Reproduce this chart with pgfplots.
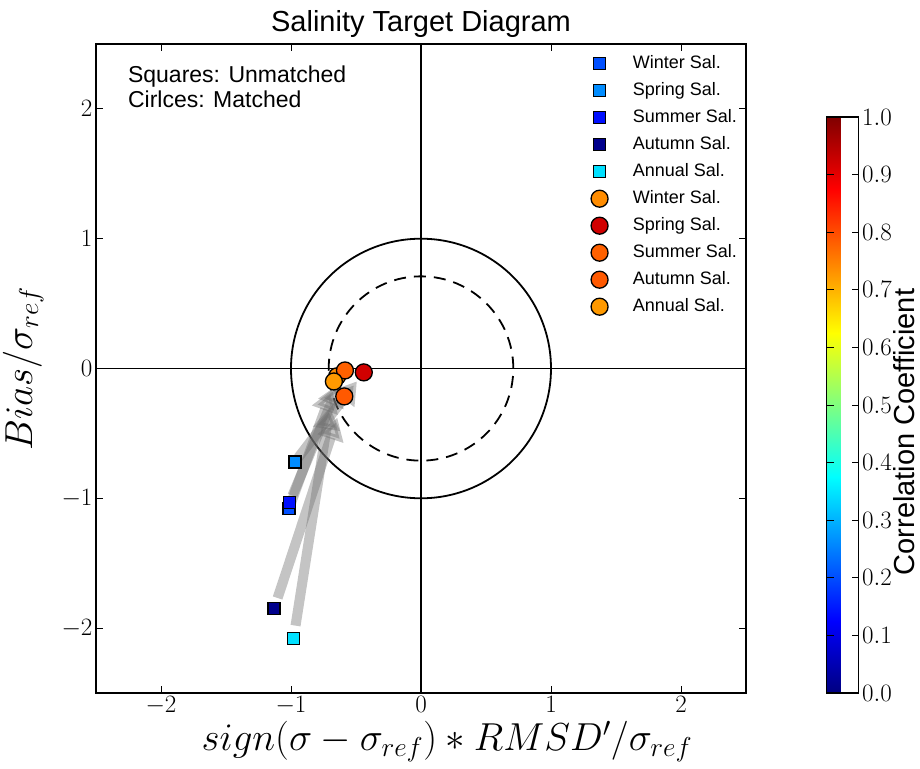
\RequirePackage{fix-cm}
\documentclass[border=0pt]{standalone}
\usepackage{fontspec}
\setmainfont{Liberation Sans}
\usepackage{pgfplots}
\pgfplotsset{compat=1.18}
\usetikzlibrary{arrows.meta}

% marker colours
\definecolor{sqWin}{rgb}{0,0.31,1}
\definecolor{sqSpr}{rgb}{0,0.55,1}
\definecolor{sqSum}{rgb}{0,0.06,1}
\definecolor{sqAut}{rgb}{0,0,0.55}
\definecolor{sqAnn}{rgb}{0,0.88,1}
\definecolor{ciWin}{rgb}{1,0.55,0}
\definecolor{ciSpr}{rgb}{0.82,0,0}
\definecolor{ciSum}{rgb}{1,0.38,0}
\definecolor{ciAut}{rgb}{1,0.35,0}
\definecolor{ciAnn}{rgb}{1,0.6,0}

\pgfplotsset{
  sq/.style={only marks, mark=square*, mark size=6pt, mark options={draw=black, line width=1.3pt, fill=#1}},
  ci/.style={only marks, mark=*, mark size=8.5pt, mark options={draw=black, line width=1.3pt, fill=#1}},
  shift/.style={forget plot, line width=10pt, color=gray!85!black, opacity=0.4, -{Triangle[width=26pt,length=22pt]}},
}

\begin{document}
\begin{tikzpicture}
\begin{axis}[
  at={(0,0)}, anchor=south west,
  width=650pt, height=649pt, scale only axis,
  xmin=-2.5, xmax=2.5, ymin=-2.5, ymax=2.5,
  xtick={-2,-1,0,1,2}, ytick={-2,-1,0,1,2},
  tick align=inside, major tick length=7pt,
  tick style={black, line width=0.8pt},
  axis line style={line width=1.8pt},
  ticklabel style={font=\fontsize{25}{29}\selectfont},
  title={Salinity Target Diagram},
  title style={font=\fontsize{29}{34}\selectfont, yshift=-3pt},
  xlabel={$sign(\sigma-\sigma_{ref}) * RMSD'/\sigma_{ref}$},
  ylabel={$Bias/\sigma_{ref}$},
  label style={font=\fontsize{39}{45}\selectfont},
  xlabel style={at={(axis description cs:0.54,-0.075)}, anchor=center},
  ylabel style={at={(axis description cs:-0.112,0.5)}, anchor=center},
  legend style={draw=none, fill=none, at={(1,1)}, anchor=north east, xshift=-4pt, yshift=-7pt,
    font=\fontsize{18}{21}\selectfont, row sep=6pt,
    nodes={text height=13pt, text depth=4pt, inner sep=2pt}},
  legend cell align=left,
  legend image code/.code={\path (-12pt,0pt) (31pt,0pt);
    \draw[mark repeat=2,mark phase=2,#1] plot coordinates {(-12pt,0pt)(0pt,0pt)(12pt,0pt)};},
  colorbar, colormap/jet,
  point meta min=0, point meta max=1,
  colorbar style={
    at={(parent axis.south east)}, anchor=south west, xshift=72pt,
    scale only axis, width=32pt, height=576pt,
    ytick={0,0.1,0.2,0.3,0.4,0.5,0.6,0.7,0.8,0.9,1},
    yticklabel style={/pgf/number format/.cd, fixed, fixed zerofill, precision=1,
      /tikz/.cd, font=\fontsize{25}{29}\selectfont},
    tick align=inside, major tick length=7pt,
    tick style={black, line width=0.8pt},
    axis line style={line width=1.5pt},
  },
]
% reference lines
\addplot[forget plot, black, line width=1.8pt] coordinates {(-2.5,0) (2.5,0)};
\addplot[forget plot, black, line width=1.8pt] coordinates {(0,-2.5) (0,2.5)};
\draw[black, line width=1.8pt] (axis cs:0,0) circle[radius=1];
\draw[black, line width=1.8pt, dash pattern=on 12pt off 8pt] (axis cs:0,0) circle[radius=0.71];

% unmatched (squares)
\addplot[sq=sqWin] coordinates {(-1.015,-1.08)};
\addlegendentry{Winter Sal.}
\addplot[sq=sqSpr] coordinates {(-0.97,-0.72)};
\addlegendentry{Spring Sal.}
\addplot[sq=sqSum] coordinates {(-1.01,-1.03)};
\addlegendentry{Summer Sal.}
\addplot[sq=sqAut] coordinates {(-1.13,-1.85)};
\addlegendentry{Autumn Sal.}
\addplot[sq=sqAnn] coordinates {(-0.98,-2.08)};
\addlegendentry{Annual Sal.}

% matched (circles)
\addplot[ci=ciWin] coordinates {(-0.645,-0.06)};
\addlegendentry{Winter Sal.}
\addplot[ci=ciSpr] coordinates {(-0.44,-0.03)};
\addlegendentry{Spring Sal.}
\addplot[ci=ciSum] coordinates {(-0.585,-0.015)};
\addlegendentry{Summer Sal.}
\addplot[ci=ciAut] coordinates {(-0.59,-0.215)};
\addlegendentry{Autumn Sal.}
\addplot[ci=ciAnn] coordinates {(-0.67,-0.10)};
\addlegendentry{Annual Sal.}

% shifts from unmatched to matched
\addplot[shift] coordinates {(-0.997,-1.029) (-0.682,-0.162)};
\addplot[shift] coordinates {(-0.944,-0.686) (-0.493,-0.099)};
\addplot[shift] coordinates {(-0.989,-0.979) (-0.628,-0.117)};
\addplot[shift] coordinates {(-1.103,-1.768) (-0.644,-0.379)};
\addplot[shift] coordinates {(-0.965,-1.981) (-0.701,-0.298)};

\node[anchor=north west, align=left, inner sep=0pt, font=\fontsize{23}{25}\selectfont]
  at (rel axis cs:0.049,0.966) {Squares: Unmatched\\Cirlces: Matched};
\end{axis}
% colour bar caption
\node[rotate=90, anchor=center, inner sep=0pt, font=\fontsize{29}{34}\selectfont]
  at (808pt,261pt) {Correlation Coefficient};
\pgfresetboundingbox
\path[use as bounding box] (-96pt,-75pt) rectangle (824pt,693pt);
\end{tikzpicture}
\end{document}
